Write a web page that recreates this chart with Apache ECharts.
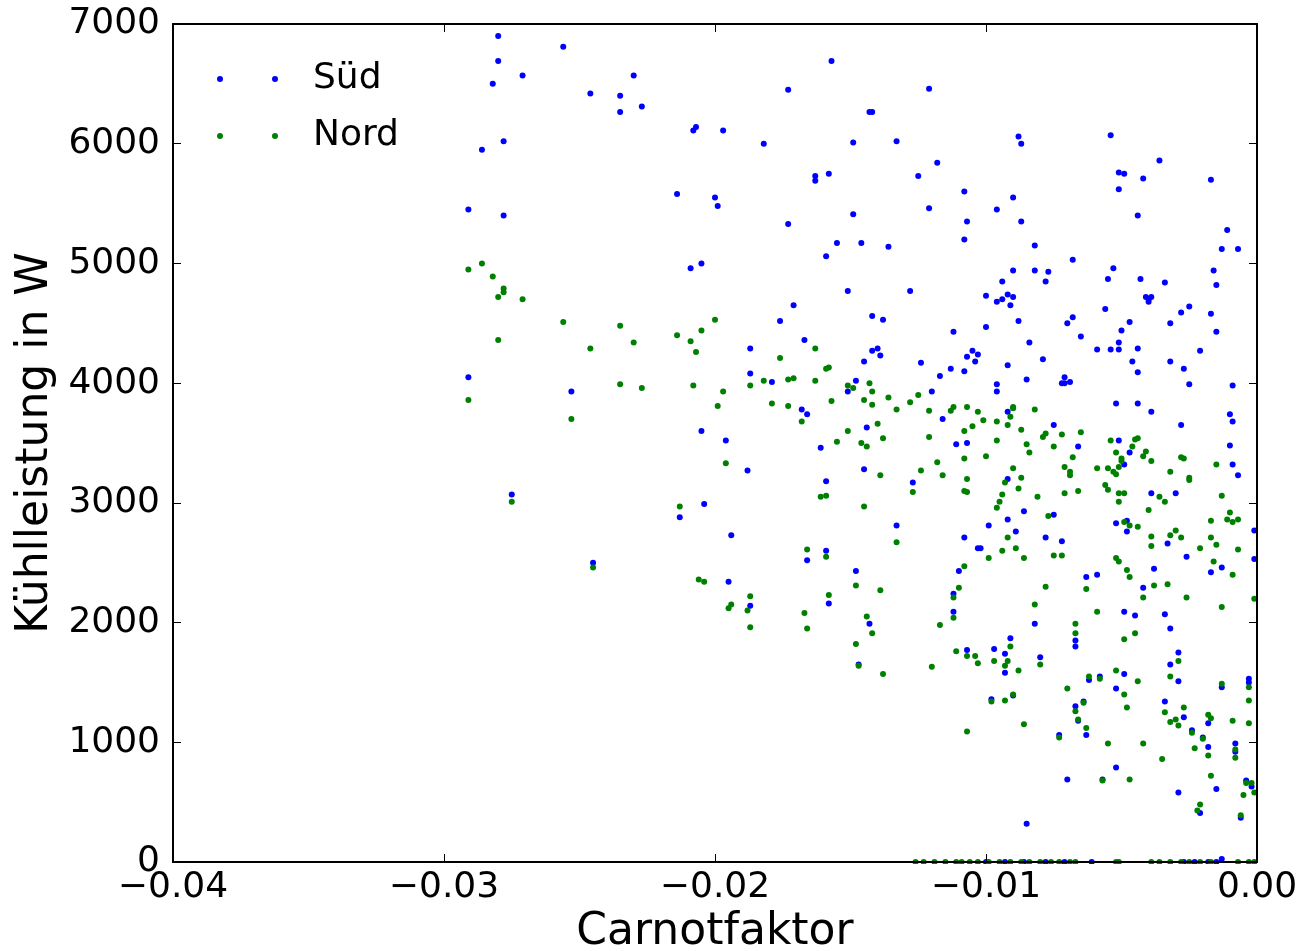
<!DOCTYPE html>
<html>
<head>
<meta charset="utf-8">
<script src="https://cdn.jsdelivr.net/npm/echarts@6/dist/echarts.min.js"></script>
<style>
html,body{margin:0;padding:0;background:#fff;}
#chart{width:1301px;height:951px;}
</style>
</head>
<body>
<div id="chart"></div>
<script>
// Series names
const seriesNames = ['Süd', 'Nord'];
// Axis tick values
const xTicks = [-0.04, -0.03, -0.02, -0.01, 0.00];
const yTicks = [0, 1000, 2000, 3000, 4000, 5000, 6000, 7000];

// Süd: [Carnotfaktor, Kühlleistung in W]
const sud = [
[-0.0280,6900],[-0.0256,6810],[-0.0280,6690],[-0.0271,6570],[-0.0282,6500],[-0.0230,6570],[-0.0246,6420],[-0.0235,6400],[-0.0235,6265],[-0.0227,6310],[-0.0208,6110],[-0.0207,6140],[-0.0278,6020],[-0.0286,5950],[-0.0291,5450],[-0.0278,5400],[-0.0214,5580],[-0.0200,5550],[-0.0199,5480],[-0.0209,4960],[-0.0205,5000],[-0.0291,4050],[-0.0253,3930],[-0.0205,3600],[-0.0275,3070],[-0.0213,2880],[-0.0204,2990],[-0.0245,2500],
[-0.0157,6690],[-0.0173,6450],[-0.0121,6460],[-0.0143,6265],[-0.0142,6265],[-0.0197,6110],[-0.0182,6000],[-0.0149,6010],[-0.0133,6020],[-0.0118,5840],[-0.0163,5730],[-0.0163,5690],[-0.0158,5750],[-0.0125,5730],[-0.0108,5600],[-0.0149,5410],[-0.0121,5460],[-0.0107,5350],[-0.0173,5330],[-0.0108,5200],[-0.0155,5170],[-0.0146,5170],[-0.0136,5140],[-0.0159,5060],[-0.0151,4770],[-0.0128,4770],[-0.0171,4650],[-0.0176,4520],[-0.0142,4560],[-0.0138,4530],[-0.0112,4430],[-0.0167,4360],[-0.0187,4290],[-0.0142,4270],[-0.0140,4290],[-0.0139,4230],[-0.0105,4270],[-0.0107,4220],[-0.0104,4180],[-0.0145,4180],[-0.0124,4170],[-0.0113,4120],[-0.0108,4100],[-0.0187,4080],[-0.0117,4060],[-0.0179,4010],[-0.0148,4020],[-0.0151,3930],[-0.0120,3930],[-0.0168,3780],[-0.0166,3740],[-0.0116,3700],[-0.0196,3520],[-0.0144,3630],[-0.0161,3460],[-0.0111,3490],[-0.0107,3500],
[-0.0188,3270],[-0.0145,3280],[-0.0159,3180],[-0.0127,3170],[-0.0194,2730],[-0.0133,2810],[-0.0108,2710],[-0.0103,2620],[-0.0166,2520],[-0.0159,2600],[-0.0148,2430],[-0.0110,2430],[-0.0195,2340],[-0.0187,2140],[-0.0158,2160],[-0.0112,2240],[-0.0112,2090],[-0.0143,1990],[-0.0107,1770],[-0.0147,1650],
[-0.0088,6060],[-0.0087,6000],[-0.0054,6070],[-0.0036,5860],[-0.0051,5760],[-0.0049,5750],[-0.0042,5710],[-0.0051,5620],[-0.0017,5700],[-0.0090,5550],[-0.0096,5450],[-0.0087,5350],[-0.0044,5400],[-0.0082,5150],[-0.0011,5280],[-0.0013,5120],[-0.0007,5120],[-0.0068,5030],[-0.0053,4960],[-0.0090,4940],[-0.0082,4940],[-0.0077,4930],[-0.0078,4850],[-0.0094,4850],[-0.0055,4870],[-0.0043,4870],[-0.0034,4840],[-0.0016,4940],[-0.0015,4820],[-0.0100,4730],[-0.0096,4680],[-0.0094,4700],[-0.0092,4740],[-0.0090,4720],[-0.0091,4650],[-0.0041,4720],[-0.0040,4700],[-0.0039,4720],[-0.0040,4680],[-0.0056,4620],[-0.0025,4640],[-0.0028,4590],[-0.0017,4580],[-0.0088,4520],[-0.0100,4470],[-0.0070,4500],[-0.0068,4550],[-0.0047,4510],[-0.0032,4500],[-0.0050,4440],[-0.0015,4430],[-0.0065,4390],[-0.0084,4340],[-0.0051,4340],[-0.0059,4280],[-0.0054,4280],[-0.0051,4280],[-0.0044,4290],[-0.0021,4270],[-0.0103,4240],[-0.0079,4200],[-0.0046,4180],[-0.0032,4180],[-0.0092,4150],[-0.0044,4090],[-0.0027,4120],[-0.0085,4030],[-0.0071,4050],[-0.0072,4000],[-0.0071,4000],[-0.0069,4010],[-0.0096,3990],[-0.0096,3930],[-0.0025,3990],[-0.0009,3980],[-0.0052,3830],[-0.0044,3830],[-0.0039,3760],[-0.0092,3760],[-0.0010,3740],[-0.0009,3680],[-0.0028,3650],[-0.0075,3650],[-0.0066,3470],[-0.0051,3520],[-0.0047,3420],[-0.0010,3480],
[-0.0049,3320],[-0.0009,3320],[-0.0007,3230],[-0.0092,3200],[-0.0039,3080],[-0.0030,3080],[-0.0086,2930],[-0.0075,2900],[-0.0099,2810],[-0.0092,2860],[-0.0089,2760],[-0.0052,2830],[-0.0048,2760],[-0.0048,2850],[-0.0102,2620],[-0.0078,2710],[-0.0072,2680],[-0.0033,2660],[-0.0026,2550],[-0.0001,2770],[-0.0001,2530],[-0.0038,2450],[-0.0017,2420],[-0.0013,2460],[-0.0063,2380],[-0.0059,2400],[-0.0042,2290],[-0.0049,2090],[-0.0045,2060],[-0.0034,2070],[-0.0032,1950],[-0.0082,1990],[-0.0067,1850],[-0.0067,1800],[-0.0091,1870],[-0.0097,1780],[-0.0093,1740],[-0.0093,1580],[-0.0080,1710],[-0.0029,1750],[-0.0032,1650],[-0.0029,1510],[-0.0062,1520],[-0.0058,1550],[-0.0049,1570],[-0.0052,1450],[-0.0098,1360],[-0.0090,1390],[-0.0067,1300],[-0.0064,1340],[-0.0066,1180],[-0.0034,1340],[-0.0027,1210],[-0.0018,1160],[-0.0024,1100],[-0.0020,1040],[-0.0018,960],[-0.0008,990],[-0.0008,920],[-0.0013,1460],[-0.0003,1530],[-0.0003,1500],[-0.0073,1060],[-0.0063,1060],[-0.0052,790],[-0.0070,690],[-0.0057,690],[-0.0029,580],[-0.0015,610],[-0.0004,680],[-0.0002,630],[-0.0021,410],[-0.0006,370],[-0.0085,320],[-0.0013,25],
[-0.0100,0],[-0.0093,0],[-0.0086,0],[-0.0078,0],[-0.0071,0],[-0.0061,0],[-0.0027,0],[-0.0023,0],[-0.0018,0],[-0.0015,0]
];

// Nord: [Carnotfaktor, Kühlleistung in W]
const nord = [
[-0.0291,4950],[-0.0286,5000],[-0.0282,4890],[-0.0278,4790],[-0.0278,4760],[-0.0280,4720],[-0.0271,4700],[-0.0280,4360],[-0.0256,4510],[-0.0246,4290],[-0.0235,4480],[-0.0230,4340],[-0.0214,4400],[-0.0209,4350],[-0.0205,4440],[-0.0200,4530],[-0.0207,4260],[-0.0291,3860],[-0.0253,3700],[-0.0235,3990],[-0.0227,3960],[-0.0208,3980],[-0.0199,3810],
[-0.0275,3010],[-0.0213,2970],[-0.0245,2460],[-0.0206,2360],[-0.0204,2340],
[-0.0163,4290],[-0.0176,4210],[-0.0159,4120],[-0.0158,4130],[-0.0187,3980],[-0.0182,4020],[-0.0173,4030],[-0.0171,4040],[-0.0163,4020],[-0.0197,3930],[-0.0179,3830],[-0.0173,3810],[-0.0168,3680],[-0.0151,3980],[-0.0149,3960],[-0.0143,4000],[-0.0142,3930],[-0.0157,3850],[-0.0145,3860],[-0.0142,3820],[-0.0136,3880],[-0.0133,3780],[-0.0128,3840],[-0.0125,3900],[-0.0121,3770],[-0.0113,3770],[-0.0112,3800],[-0.0107,3800],[-0.0103,3760],[-0.0151,3600],[-0.0140,3660],[-0.0105,3640],[-0.0108,3600],[-0.0155,3510],[-0.0146,3500],[-0.0144,3470],[-0.0138,3540],[-0.0121,3550],[-0.0108,3370],
[-0.0196,3330],[-0.0118,3340],[-0.0124,3270],[-0.0139,3230],[-0.0116,3230],[-0.0107,3200],[-0.0127,3090],[-0.0108,3100],[-0.0107,3090],[-0.0161,3050],[-0.0159,3060],[-0.0145,2970],[-0.0133,2670],[-0.0166,2610],[-0.0159,2550],[-0.0108,2470],[-0.0110,2290],[-0.0187,2220],[-0.0194,2150],[-0.0195,2120],[-0.0188,2100],[-0.0187,1960],[-0.0158,2230],[-0.0167,2080],[-0.0166,1950],[-0.0148,2310],[-0.0139,2270],[-0.0144,2050],[-0.0142,1910],[-0.0148,1820],[-0.0112,2210],[-0.0112,2040],[-0.0117,1980],[-0.0111,1760],[-0.0107,1720],[-0.0104,1720],[-0.0103,1660],[-0.0147,1640],[-0.0138,1570],[-0.0120,1630],[-0.0107,1090],
[-0.0101,3690],[-0.0096,3680],[-0.0092,3650],[-0.0090,3790],[-0.0090,3800],[-0.0091,3720],[-0.0082,3780],[-0.0087,3610],[-0.0096,3520],[-0.0085,3490],[-0.0079,3550],[-0.0078,3580],[-0.0072,3570],[-0.0065,3590],[-0.0075,3470],[-0.0084,3420],[-0.0100,3390],[-0.0068,3380],[-0.0054,3520],[-0.0045,3530],[-0.0044,3540],[-0.0046,3470],[-0.0052,3420],[-0.0041,3430],[-0.0042,3390],[-0.0028,3380],[-0.0050,3370],
[-0.0071,3300],[-0.0069,3230],[-0.0069,3260],[-0.0090,3290],[-0.0087,3210],[-0.0088,3120],[-0.0093,3170],[-0.0094,3070],[-0.0095,3010],[-0.0096,2960],[-0.0081,3050],[-0.0071,3080],[-0.0066,3100],[-0.0059,3290],[-0.0055,3290],[-0.0053,3260],[-0.0052,3240],[-0.0051,3300],[-0.0050,3350],[-0.0039,3350],[-0.0032,3260],[-0.0027,3370],[-0.0025,3190],[-0.0025,3210],[-0.0015,3320],[-0.0013,3060],[-0.0056,3150],[-0.0055,3110],[-0.0051,3080],[-0.0049,3080],[-0.0051,3010],[-0.0036,3050],[-0.0034,3010],[-0.0040,2940],[-0.0077,2890],[-0.0092,2710],[-0.0094,2600],[-0.0099,2540],[-0.0089,2620],[-0.0086,2540],[-0.0075,2560],[-0.0072,2560],[-0.0049,2840],[-0.0047,2810],[-0.0044,2800],[-0.0039,2720],[-0.0039,2640],[-0.0032,2730],[-0.0030,2770],[-0.0028,2710],[-0.0021,2620],[-0.0017,2850],[-0.0017,2710],[-0.0015,2650],[-0.0011,2860],[-0.0010,2920],[-0.0009,2840],[-0.0007,2860],[-0.0007,2610],[-0.0016,2510],[-0.0009,2400],[-0.0013,2130],[-0.0026,2210],[-0.0001,2200],[-0.0052,2540],[-0.0051,2510],[-0.0048,2440],[-0.0047,2380],[-0.0042,2210],[-0.0038,2310],[-0.0033,2320],[-0.0063,2280],[-0.0078,2300],[-0.0082,2150],[-0.0059,2090],[-0.0067,1990],[-0.0067,1910],[-0.0049,1860],[-0.0045,1910],[-0.0091,1800],[-0.0097,1680],[-0.0093,1640],[-0.0092,1680],[-0.0088,1600],[-0.0080,1650],[-0.0029,1680],[-0.0032,1550],[-0.0062,1550],[-0.0058,1530],[-0.0052,1600],[-0.0049,1400],[-0.0048,1290],[-0.0044,1510],[-0.0070,1450],[-0.0098,1340],[-0.0093,1350],[-0.0090,1400],[-0.0067,1260],[-0.0066,1190],[-0.0064,1330],[-0.0063,1120],[-0.0034,1250],[-0.0032,1170],[-0.0030,1190],[-0.0029,1140],[-0.0027,1290],[-0.0018,1230],[-0.0017,1200],[-0.0024,1080],[-0.0023,950],[-0.0020,1030],[-0.0018,890],[-0.0013,1490],[-0.0009,1180],[-0.0008,870],[-0.0008,940],[-0.0003,1460],[-0.0003,1350],[-0.0003,1160],[-0.0086,1150],[-0.0073,1040],[-0.0055,990],[-0.0042,990],[-0.0035,860],[-0.0057,680],[-0.0047,690],[-0.0017,720],[-0.0005,560],[-0.0004,660],[-0.0002,660],[-0.0001,580],[-0.0021,480],[-0.0022,430],[-0.0006,390],
[-0.0126,0],[-0.0123,0],[-0.0119,0],[-0.0115,0],[-0.0111,0],[-0.0109,0],[-0.0106,0],[-0.0103,0],[-0.0099,0],[-0.0095,0],[-0.0091,0],[-0.0087,0],[-0.0084,0],[-0.0080,0],[-0.0076,0],[-0.0073,0],[-0.0069,0],[-0.0067,0],[-0.0052,0],[-0.0051,0],[-0.0039,0],[-0.0036,0],[-0.0032,0],[-0.0028,0],[-0.0025,0],[-0.0021,0],[-0.0017,0],[-0.0007,0],[-0.0003,0],[-0.0001,0]
];

const FONT = 'DejaVu Sans';
const legendIcon = 'path://M0,3a3,3 0 1,0 6,0a3,3 0 1,0 -6,0M55,3a3,3 0 1,0 6,0a3,3 0 1,0 -6,0';

const fmtX = v => {
  const s = Math.abs(v).toFixed(2);
  return (v < -1e-9 ? '\u2212' : '') + s;
};
const fmtY = v => String(Math.round(v));

const chart = echarts.init(document.getElementById('chart'), null, {renderer: 'canvas'});

const baseX = {
  type: 'value',
  min: xTicks[0], max: xTicks[xTicks.length - 1], interval: 0.01,
  splitLine: {show: false},
  axisLine: {show: true, onZero: false, lineStyle: {color: '#000', width: 2}},
  axisTick: {show: true, inside: true, length: 8, lineStyle: {color: '#000', width: 1}},
  z: 20
};
const baseY = {
  type: 'value',
  min: yTicks[0], max: yTicks[yTicks.length - 1], interval: 1000,
  splitLine: {show: false},
  axisLine: {show: true, onZero: false, lineStyle: {color: '#000', width: 2}},
  axisTick: {show: true, inside: true, length: 8, lineStyle: {color: '#000', width: 1}},
  z: 20
};

chart.setOption({
  animation: false,
  backgroundColor: '#fff',
  textStyle: {fontFamily: FONT},
  grid: {left: 173, right: 44, top: 24, bottom: 89, containLabel: false, outerBoundsMode: 'none'},
  legend: {
    orient: 'vertical', left: 212, top: 54,
    itemWidth: 61, itemHeight: 6, itemGap: 17,
    data: seriesNames.map(n => ({name: n, icon: legendIcon})),
    textStyle: {fontFamily: FONT, fontSize: 36, color: '#000', lineHeight: 40, padding: [0, 0, 0, 30]},
    selectedMode: false
  },
  xAxis: [
    Object.assign({}, baseX, {
      position: 'bottom',
      axisLabel: {show: true, fontFamily: FONT, fontSize: 36, color: '#000', margin: 8, formatter: fmtX},
      name: 'Carnotfaktor', nameLocation: 'middle', nameGap: 48,
      nameTextStyle: {fontFamily: FONT, fontSize: 44, color: '#000'}
    }),
    Object.assign({}, baseX, {position: 'top', axisLabel: {show: false}})
  ],
  yAxis: [
    Object.assign({}, baseY, {
      position: 'left',
      axisLabel: {show: true, fontFamily: FONT, fontSize: 36, color: '#000', margin: 13, formatter: fmtY},
      name: 'Kühlleistung in W', nameLocation: 'middle', nameGap: 115,
      nameTextStyle: {fontFamily: FONT, fontSize: 44, color: '#000'}
    }),
    Object.assign({}, baseY, {position: 'right', axisLabel: {show: false}})
  ],
  graphic: [{
    type: 'rect', left: 173, top: 864, z: 10,
    shape: {width: 1084, height: 6},
    style: {fill: '#fff'}
  }],
  series: [
    {
      name: seriesNames[0], type: 'scatter', data: sud,
      xAxisIndex: 0, yAxisIndex: 0,
      symbol: 'circle', symbolSize: 6,
      itemStyle: {color: '#0000ff', opacity: 1}
    },
    {
      name: seriesNames[1], type: 'scatter', data: nord,
      xAxisIndex: 0, yAxisIndex: 0,
      symbol: 'circle', symbolSize: 6,
      itemStyle: {color: '#008000', opacity: 1}
    }
  ]
});
</script>
</body>
</html>
